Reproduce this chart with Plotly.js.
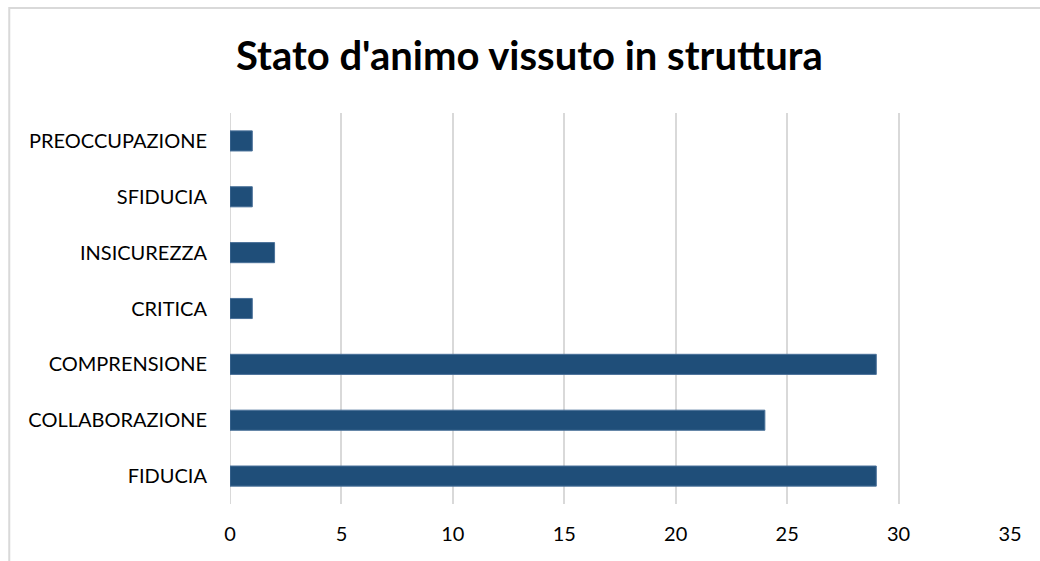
<!DOCTYPE html>
<html>
<head>
<meta charset="utf-8">
<script src="https://cdn.plot.ly/plotly-3.0.1.min.js"></script>
<style>
html,body{margin:0;padding:0;background:#fff;}
#chart{width:1040px;height:561px;}
</style>
</head>
<body>
<div id="chart"></div>
<script>
const categories = ["FIDUCIA","COLLABORAZIONE","COMPRENSIONE","CRITICA","INSICUREZZA","SFIDUCIA","PREOCCUPAZIONE"];
const values = [29, 24, 29, 1, 2, 1, 1];
const xTicks = [0, 5, 10, 15, 20, 25, 30, 35];

const trace = {
  type: "bar",
  orientation: "h",
  x: values,
  y: categories,
  marker: {color: "#1F4E79", line: {color: "#4A7199", width: 1}},
  hoverinfo: "x+y"
};

const layout = {
  width: 1040, height: 561,
  margin: {l: 230, r: 29.5, t: 113, b: 57, pad: 0},
  paper_bgcolor: "#fff", plot_bgcolor: "#fff",
  font: {family: "Lato, 'Open Sans', sans-serif", color: "#000", size: 20},
  title: {text: "<b>Stato d'animo vissuto in struttura</b>", x: 0.509, xanchor: "center", y: 0.9, yanchor: "middle",
          font: {size: 40, family: "Lato, 'Open Sans', sans-serif", color: "#000"}},
  bargap: 0.64,
  xaxis: {range: [0, 35], tickvals: xTicks, ticktext: xTicks.map(String), showgrid: true, gridcolor: "#d9d9d9", gridwidth: 2,
          zeroline: false, showline: false, ticks: "", ticklabelstandoff: 16, fixedrange: true,
          tickfont: {size: 20}},
  yaxis: {categoryorder: "array", categoryarray: categories, showgrid: false, zeroline: false, showline: false, ticks: "",
          ticklabelstandoff: 22, fixedrange: true, tickfont: {size: 20}},
  shapes: [
    {type: "rect", xref: "paper", yref: "paper", x0: -0.283, x1: 1.05, y0: -0.15, y1: 1.2685,
     line: {color: "#d9d9d9", width: 2}, fillcolor: "rgba(0,0,0,0)", layer: "below"},
    {type: "line", xref: "x", yref: "paper", x0: 0, x1: 0, y0: 0, y1: 1, line: {color: "#d9d9d9", width: 2}, layer: "below"}
  ],
  showlegend: false
};

Plotly.newPlot("chart", [trace], layout, {displayModeBar: false, staticPlot: true});
</script>
</body>
</html>
